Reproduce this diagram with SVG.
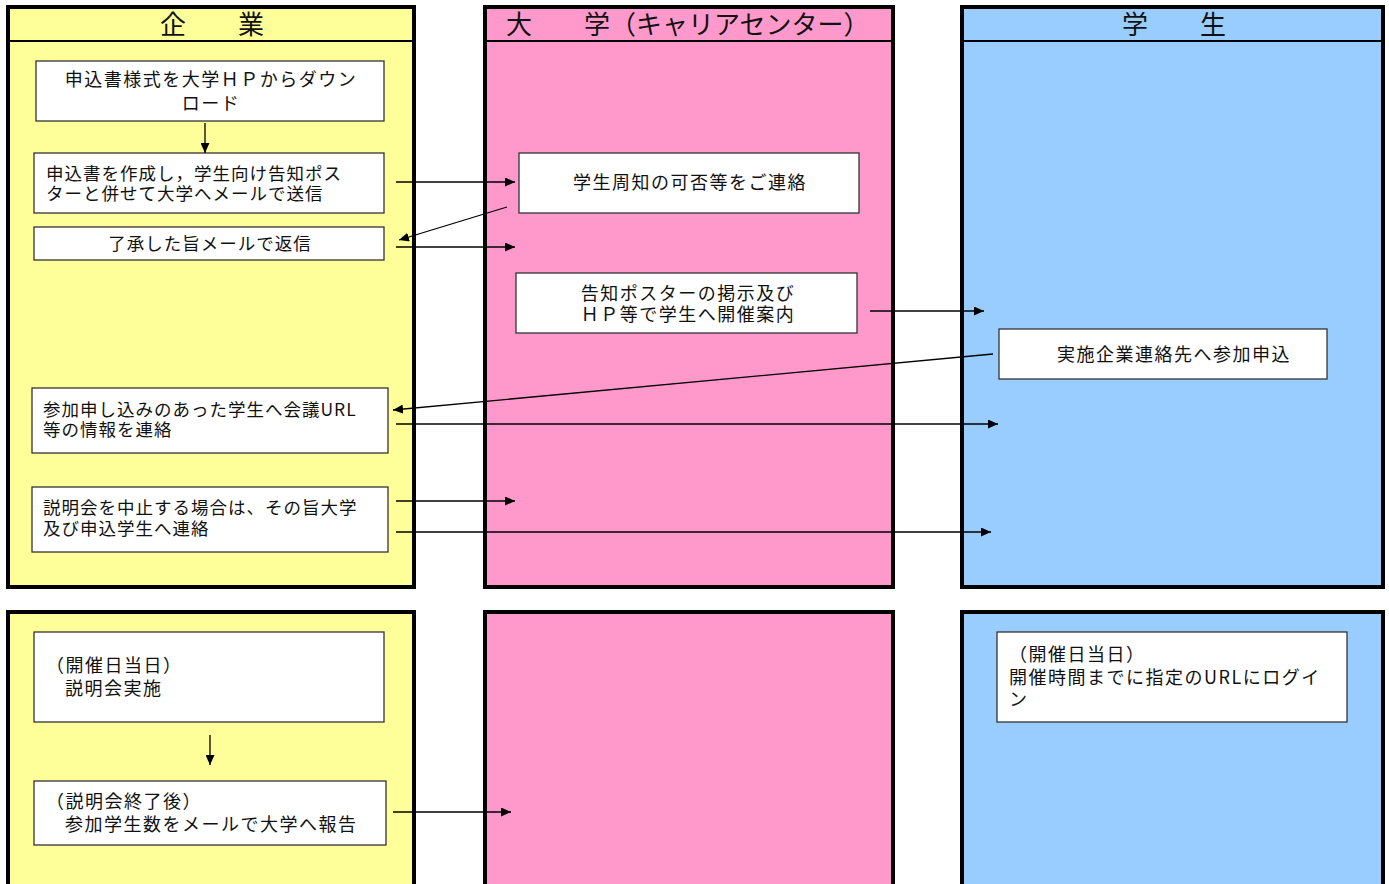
<svg xmlns="http://www.w3.org/2000/svg" width="1389" height="884" viewBox="0 0 1389 884">
<style>
.lane{stroke:#000;stroke-width:4}
.y{fill:#FFFF99}.p{fill:#FF99CC}.b{fill:#99CCFF}
.hd{stroke:#000;stroke-width:2}
.box{fill:#fff;stroke:#333;stroke-width:1.3}
text{font-family:"Noto Sans CJK JP","Noto Sans",sans-serif;fill:#111}
.h{font-size:26px}
.t{font-size:18px;letter-spacing:1.5px}
.s{font-size:17.5px;letter-spacing:1px}
.c{text-anchor:middle}
.con line{stroke:#000;stroke-width:1.3;marker-end:url(#ah)}
</style>
<defs>
<marker id="ah" markerUnits="userSpaceOnUse" markerWidth="11" markerHeight="9" refX="10" refY="4.5" orient="auto"><path d="M0,0 L10,4.5 L0,9 z" fill="#000"/></marker>
</defs>
<rect width="1389" height="884" fill="#fff"/>
<g id="lane-company">
<rect class="lane y" x="8" y="7" width="406" height="580"/>
<line class="hd" x1="8" y1="41" x2="414" y2="41"/>
<text class="h" x="160" y="34">企　　業</text>
</g>
<g id="lane-university">
<rect class="lane p" x="485" y="7" width="408" height="580"/>
<line class="hd" x1="485" y1="41" x2="893" y2="41"/>
<text class="h" x="506" y="34">大　　学（キャリアセンター）</text>
</g>
<g id="lane-student">
<rect class="lane b" x="962" y="7" width="421" height="580"/>
<line class="hd" x1="962" y1="41" x2="1383" y2="41"/>
<text class="h" x="1122" y="34">学　　生</text>
</g>
<g id="lane-company-2"><rect class="lane y" x="8" y="612" width="406" height="300"/></g>
<g id="lane-university-2"><rect class="lane p" x="485" y="612" width="408" height="300"/></g>
<g id="lane-student-2"><rect class="lane b" x="962" y="612" width="421" height="300"/></g>

<g id="n1"><rect class="box" x="36" y="61" width="348" height="60"/>
<text class="t c" x="211" y="86">申込書様式を大学ＨＰからダウン</text>
<text class="t c" x="211" y="110">ロード</text></g>
<g id="n2"><rect class="box" x="34" y="153" width="350" height="60"/>
<text class="s" x="46" y="180">申込書を作成し，学生向け告知ポス</text>
<text class="s" x="46" y="200">ターと併せて大学へメールで送信</text></g>
<g id="n3"><rect class="box" x="34" y="227" width="350" height="33"/>
<text class="s c" x="210" y="250">了承した旨メールで返信</text></g>
<g id="n4"><rect class="box" x="519" y="153" width="340" height="60"/>
<text class="t c" x="690" y="189">学生周知の可否等をご連絡</text></g>
<g id="n5"><rect class="box" x="516" y="273" width="341" height="60"/>
<text class="t c" x="688" y="300">告知ポスターの掲示及び</text>
<text class="t c" x="688" y="321">ＨＰ等で学生へ開催案内</text></g>
<g id="n6"><rect class="box" x="999" y="329" width="328" height="50"/>
<text class="t c" x="1174" y="361">実施企業連絡先へ参加申込</text></g>
<g id="n7"><rect class="box" x="32" y="388" width="356" height="65"/>
<text class="s" x="43" y="416">参加申し込みのあった学生へ会議URL</text>
<text class="s" x="43" y="436">等の情報を連絡</text></g>
<g id="n8"><rect class="box" x="32" y="487" width="356" height="65"/>
<text class="s" x="43" y="514">説明会を中止する場合は、その旨大学</text>
<text class="s" x="43" y="535">及び申込学生へ連絡</text></g>
<g id="n9"><rect class="box" x="34" y="632" width="350" height="90"/>
<text class="t" x="46" y="672">（開催日当日）</text>
<text class="t" x="65" y="695">説明会実施</text></g>
<g id="n10"><rect class="box" x="34" y="781" width="352" height="64"/>
<text class="t" x="46" y="808">（説明会終了後）</text>
<text class="t" x="65" y="831">参加学生数をメールで大学へ報告</text></g>
<g id="n11"><rect class="box" x="997" y="632" width="350" height="90"/>
<text class="t" x="1009" y="661">（開催日当日）</text>
<text class="t" x="1009" y="684">開催時間までに指定のURLにログイ</text>
<text class="t" x="1009" y="706">ン</text></g>

<g class="con" id="connectors">
<line x1="205" y1="123" x2="205" y2="153"/>
<line x1="396" y1="182" x2="515" y2="182"/>
<line x1="507" y1="207" x2="399" y2="240"/>
<line x1="396" y1="247" x2="515" y2="247"/>
<line x1="870" y1="311" x2="984" y2="311"/>
<line x1="993" y1="354" x2="393" y2="410"/>
<line x1="396" y1="424" x2="998" y2="424"/>
<line x1="396" y1="501" x2="515" y2="501"/>
<line x1="396" y1="532" x2="991" y2="532"/>
<line x1="210" y1="735" x2="210" y2="765"/>
<line x1="393" y1="812" x2="511" y2="812"/>
</g>
</svg>
